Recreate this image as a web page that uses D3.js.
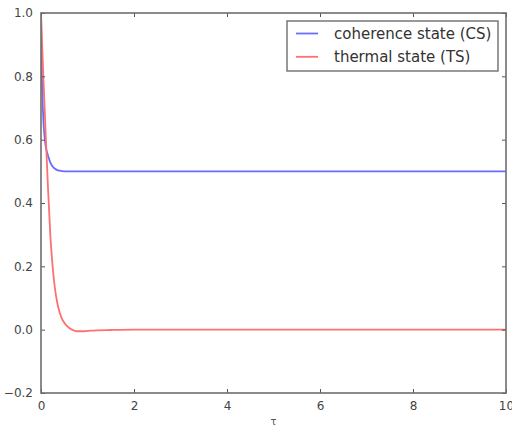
<!DOCTYPE html>
<html>
<head>
<meta charset="utf-8">
<script src="https://cdn.jsdelivr.net/npm/d3@7"></script>
<style>
  html, body { margin: 0; padding: 0; background: #fff; }
  svg { display: block; font-family: "DejaVu Sans", sans-serif; }
</style>
</head>
<body>
<svg id="chart" width="512" height="432"></svg>
<script>
// ---- data ----
const csTau = [0, 0.005, 0.01, 0.02, 0.04, 0.06, 0.08, 0.1, 0.13, 0.16, 0.2, 0.25, 0.3, 0.35, 0.4, 0.5, 0.7, 1, 2, 4, 6, 8, 10];
const csVal = [1.0, 0.93, 0.87, 0.80, 0.70, 0.64, 0.605, 0.58, 0.56, 0.545, 0.528, 0.515, 0.508, 0.504, 0.502, 0.5, 0.5, 0.5, 0.5, 0.5, 0.5, 0.5, 0.5];
const tsTau = [0, 0.05, 0.1, 0.15, 0.2, 0.25, 0.3, 0.35, 0.4, 0.45, 0.5, 0.6, 0.7, 0.8, 0.9, 1.0, 1.2, 1.5, 2, 4, 6, 8, 10];
const tsVal = [1.0, 0.80, 0.62, 0.45, 0.30, 0.20, 0.13, 0.085, 0.055, 0.035, 0.022, 0.006, -0.002, -0.005, -0.005, -0.004, -0.002, -0.001, 0, 0, 0, 0, 0];
const xTicks = [0, 2, 4, 6, 8, 10];
const yTicks = [-0.2, 0.0, 0.2, 0.4, 0.6, 0.8, 1.0];
const seriesNames = ["coherence state (CS)", "thermal state (TS)"];
const seriesColors = ["#6b6bff", "#ff7070"];
const xLabel = "τ";

// ---- layout ----
const L = 41, R = 506, T = 13, B = 393;
const svg = d3.select("#chart");
const x = d3.scaleLinear().domain([0, 10]).range([L, R]);
const y = d3.scaleLinear().domain([-0.2, 1.0]).range([B, T]);

svg.append("clipPath").attr("id", "plotclip")
  .append("rect").attr("x", L).attr("y", T).attr("width", R - L).attr("height", B - T);

const line = d3.line().x(d => x(d[0])).y(d => y(d[1])).curve(d3.curveMonotoneX);
const series = [
  d3.zip(csTau, csVal),
  d3.zip(tsTau, tsVal)
];
const g = svg.append("g").attr("clip-path", "url(#plotclip)");
series.forEach((s, i) => {
  g.append("path").datum(s)
    .attr("d", line)
    .attr("fill", "none")
    .attr("stroke", seriesColors[i])
    .attr("stroke-width", 1.8);
});

// ---- axes (ticks inward on all sides) ----
const tickColor = "#555";
const fmtY = d => d3.format(".1f")(d).replace("-", "\u2212");
const axB = svg.append("g").attr("transform", `translate(0,${B})`)
  .call(d3.axisBottom(x).tickValues(xTicks).tickSize(-4).tickPadding(8).tickFormat(d3.format("d")));
const axT = svg.append("g").attr("transform", `translate(0,${T})`)
  .call(d3.axisTop(x).tickValues(xTicks).tickSize(-4).tickFormat(""));
const axL = svg.append("g").attr("transform", `translate(${L},0)`)
  .call(d3.axisLeft(y).tickValues(yTicks).tickSize(-4).tickPadding(8).tickFormat(fmtY));
const axR = svg.append("g").attr("transform", `translate(${R},0)`)
  .call(d3.axisRight(y).tickValues(yTicks).tickSize(-4).tickFormat(""));
[axB, axT, axL, axR].forEach(a => {
  a.select(".domain").remove();
  a.selectAll(".tick line").attr("stroke", tickColor).attr("stroke-width", 1);
  a.selectAll(".tick text").attr("fill", "#444").style("font-size", "12px").style("font-family", "DejaVu Sans, sans-serif");
});

svg.append("rect").attr("x", L).attr("y", T).attr("width", R - L).attr("height", B - T)
  .attr("fill", "none").attr("stroke", "#6e6e6e").attr("stroke-width", 1.6);

svg.append("text").attr("x", (L + R) / 2).attr("y", 425)
  .attr("text-anchor", "middle").attr("fill", "#555")
  .style("font-size", "10px").text(xLabel);

// ---- legend ----
const lg = svg.append("g");
lg.append("rect").attr("x", 287).attr("y", 21).attr("width", 211).attr("height", 50)
  .attr("fill", "#fff").attr("stroke", "#6e6e6e").attr("stroke-width", 1.4);
seriesNames.forEach((n, i) => {
  const yy = 33.5 + i * 23.3;
  lg.append("line").attr("x1", 296).attr("x2", 318).attr("y1", yy).attr("y2", yy)
    .attr("stroke", seriesColors[i]).attr("stroke-width", 1.8);
  lg.append("text").attr("x", 334).attr("y", yy).attr("dy", "0.36em")
    .attr("fill", "#333").style("font-size", "15px").text(n);
});
</script>
</body>
</html>
